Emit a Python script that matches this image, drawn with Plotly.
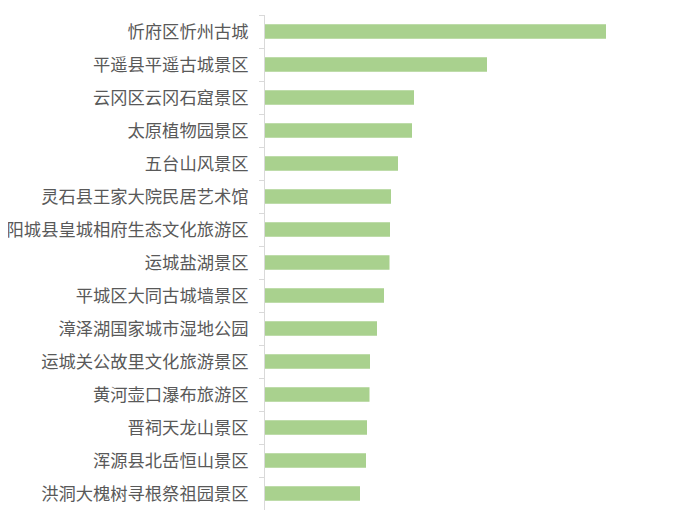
import plotly.graph_objects as go

# categories top to bottom
spots = ['忻府区忻州古城', '平遥县平遥古城景区', '云冈区云冈石窟景区', '太原植物园景区',
         '五台山风景区', '灵石县王家大院民居艺术馆', '阳城县皇城相府生态文化旅游区',
         '运城盐湖景区', '平城区大同古城墙景区', '漳泽湖国家城市湿地公园',
         '运城关公故里文化旅游景区', '黄河壶口瀑布旅游区', '晋祠天龙山景区',
         '浑源县北岳恒山景区', '洪洞大槐树寻根祭祖园景区']
valores = [341, 222, 149, 147, 133, 126, 125, 124.5, 119, 112, 105, 104.5, 102, 101, 95]

fig = go.Figure(go.Bar(x=valores, y=spots, orientation='h',
                       marker=dict(color='#a9d18e', line=dict(width=0)),
                       width=0.44))

# page body adds ~8px offset, margins compensate for it
fig.update_layout(width=700, height=516,
                  margin=dict(l=257, r=68, t=7, b=14),
                  plot_bgcolor='white', paper_bgcolor='white',
                  showlegend=False,
                  font=dict(family='Noto Sans CJK SC', size=17.3, color='#595959'))

fig.update_xaxes(range=[0, 375], visible=False)
fig.update_yaxes(autorange='reversed', automargin=False,
                 showline=True, linecolor='#d9d9d9', linewidth=1,
                 ticks='outside', tickson='boundaries', ticklen=5, tickcolor='#d9d9d9',
                 ticklabelstandoff=12, showgrid=False)

fig.write_html('out.html')
